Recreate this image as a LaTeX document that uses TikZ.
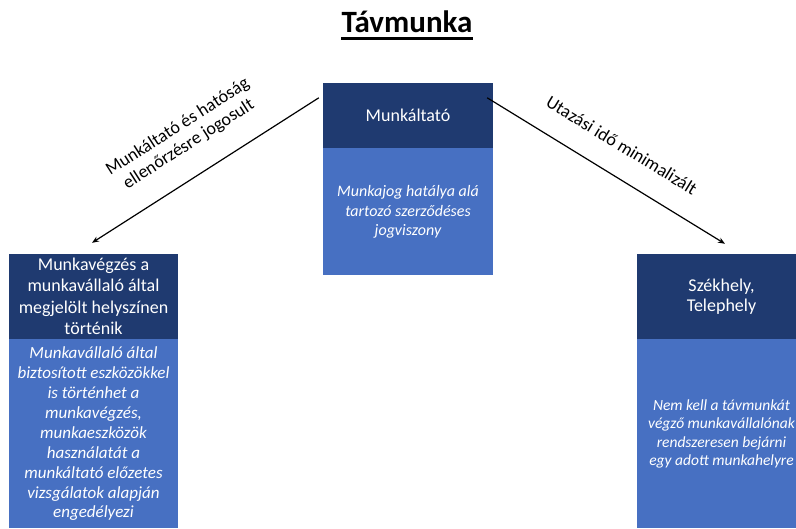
\documentclass[tikz,border=0pt]{standalone}
\usepackage{fontspec}
\setmainfont{Carlito}
\usetikzlibrary{calc,arrows.meta}
\definecolor{hdrblue}{HTML}{1F3A70}
\definecolor{bodyblue}{HTML}{4770C2}
\tikzset{
  hdr/.style={fill=hdrblue, text=white, align=center, inner sep=0pt, font=\fontsize{18}{21.5}\selectfont},
  bodybox/.style={fill=bodyblue, text=white, align=center, inner sep=0pt},
  arr/.style={line width=1.2pt, -{Stealth[length=7pt,width=5.5pt]}},
  lbl/.style={align=center, inner sep=0pt, font=\fontsize{18}{20.5}\selectfont}
}
\begin{document}
\begin{tikzpicture}[x=1pt,y=1pt]
\clip (0,0) rectangle (796,528);
\fill[white] (0,0) rectangle (796,528);
% title
\node[font=\bfseries\fontsize{31}{36}\selectfont, anchor=base, inner sep=0pt] (title) at (407,495) {Távmunka};
\draw[line width=2.6pt] ([yshift=-5.5pt]title.base west) -- ([yshift=-5.5pt]title.base east);
% center box
\node[hdr, minimum width=170pt, minimum height=65pt] (mhead) at (408,412.5) {Munkáltató};
\node[bodybox, minimum width=170pt, minimum height=127pt, anchor=north, font=\itshape\fontsize{16}{19.5}\selectfont] (mbody) at (mhead.south) {Munkajog hatálya alá\\tartozó szerződéses\\jogviszony};
% left box
\node[hdr, minimum width=169pt, minimum height=85pt] (lhead) at (93.5,231.5) {Munkavégzés a\\munkavállaló által\\megjelölt helyszínen\\történik};
\node[bodybox, minimum width=169pt, minimum height=189pt, anchor=north, font=\itshape\fontsize{17}{19.9}\selectfont] (lbody) at (lhead.south) {Munkavállaló által\\biztosított eszközökkel\\is történhet a\\munkavégzés,\\munkaeszközök\\használatát a\\munkáltató előzetes\\vizsgálatok alapján\\engedélyezi};
% right box
\node[hdr, minimum width=169pt, minimum height=85pt, font=\fontsize{18}{20}\selectfont] (rhead) at (721.5,231.5) {Székhely,\\Telephely};
\node[bodybox, minimum width=169pt, minimum height=189pt, anchor=north, font=\itshape\fontsize{15.5}{18.5}\selectfont] (rbody) at (rhead.south) {Nem kell a távmunkát\\végző munkavállalónak\\rendszeresen bejárni\\egy adott munkahelyre};
% arrows
\coordinate (la) at ([xshift=-4pt,yshift=-15pt]mhead.north west);
\coordinate (lb) at ([xshift=-1.5pt,yshift=11pt]lhead.north);
\coordinate (ra) at ([xshift=-6pt,yshift=-15pt]mhead.north east);
\coordinate (rb) at ([xshift=3.5pt,yshift=10pt]rhead.north);
\draw[arr] (la) -- (lb);
\draw[arr] (ra) -- (rb);
\coordinate (lm) at ($(la)!0.5!(lb)$);
\coordinate (rm) at ($(ra)!0.5!(rb)$);
\node[lbl, rotate=32.6] (llab) at ($(lm)!41pt!-90:(lb)$) {Munkáltató és hatóság\\ellenőrzésre jogosult};
\node[lbl, rotate=-31.4] (rlab) at ($(rm)!30pt!90:(rb)$) {Utazási idő minimalizált};
\end{tikzpicture}
\end{document}
